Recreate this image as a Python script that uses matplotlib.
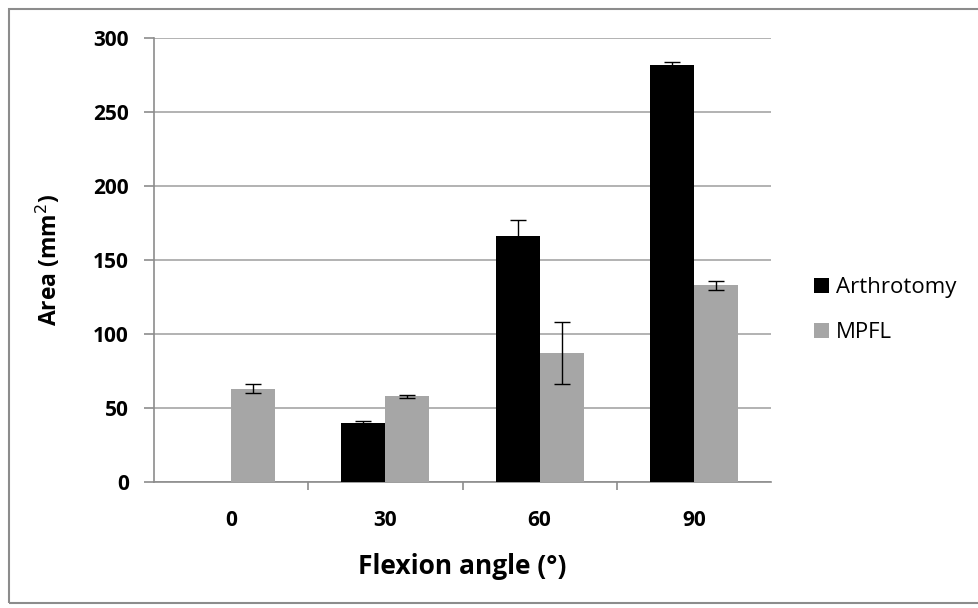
import numpy as np
import matplotlib.pyplot as plt
from matplotlib.patches import Rectangle

angles = ['0', '30', '60', '90']
arthrotomy = [0, 40, 166, 282]
arthrotomy_err = [0, 1, 11, 1.5]
mpfl = [63, 58, 87, 133]
mpfl_err = [3, 1, 21, 3]

plt.rcParams['font.family'] = ['Open Sans', 'DejaVu Sans']

fig = plt.figure(figsize=(9.79, 6.08), dpi=100)
ax = fig.add_axes([154 / 979, 1 - 482 / 608, 617 / 979, 444 / 608])

x = np.arange(len(angles))
w = 0.285
ax.bar(x - w / 2, arthrotomy, w, color='black', label='Arthrotomy', zorder=3)
ax.bar(x + w / 2, mpfl, w, color='#a6a6a6', label='MPFL', zorder=3)
# no whisker on the empty first arthrotomy bar
ax.errorbar(x[1:] - w / 2, arthrotomy[1:], yerr=arthrotomy_err[1:], fmt='none',
            ecolor='black', elinewidth=1, capsize=6, capthick=1, zorder=4)
ax.errorbar(x + w / 2, mpfl, yerr=mpfl_err, fmt='none',
            ecolor='black', elinewidth=1, capsize=6, capthick=1, zorder=4)

ax.set_xlim(-0.5, 3.5)
ax.set_ylim(0, 300)
ax.set_yticks(range(0, 301, 50))
ax.yaxis.grid(True, color='#a6a6a6', linewidth=1.2, zorder=0)
ax.set_axisbelow(True)

for s in ['top', 'right']:
    ax.spines[s].set_visible(False)
for s in ['left', 'bottom']:
    ax.spines[s].set_color('#8c8c8c')
    ax.spines[s].set_linewidth(1.2)

ax.set_xticks(x)
ax.set_xticklabels(angles, fontsize=15, fontweight='bold')
ax.tick_params(axis='x', length=0, pad=20)
ax.set_xticks([0.5, 1.5, 2.5], minor=True)
ax.tick_params(axis='x', which='minor', length=6, color='#8c8c8c', width=1.2)
ax.tick_params(axis='y', length=7, color='#8c8c8c', width=1.2, labelsize=15, pad=11)
for lbl in ax.get_yticklabels():
    lbl.set_fontweight('bold')

ax.set_xlabel('Flexion angle (°)', fontsize=19, fontweight='bold', labelpad=16)
ax.set_ylabel('Area (mm$^2$)', fontsize=16.5, fontweight='bold', labelpad=22)

ax.legend(loc='center left', bbox_to_anchor=(1.038, 0.387), frameon=False,
          fontsize=16, handlelength=0.65, handleheight=0.65, labelspacing=1.1,
          handletextpad=0.3)

fig.patches.append(Rectangle((9 / 979, 5 / 608), 1.0, 1 - 14 / 608,
                             transform=fig.transFigure, fill=False,
                             edgecolor='#8c8c8c', linewidth=1.5))

fig.savefig('out.png', dpi=100)
